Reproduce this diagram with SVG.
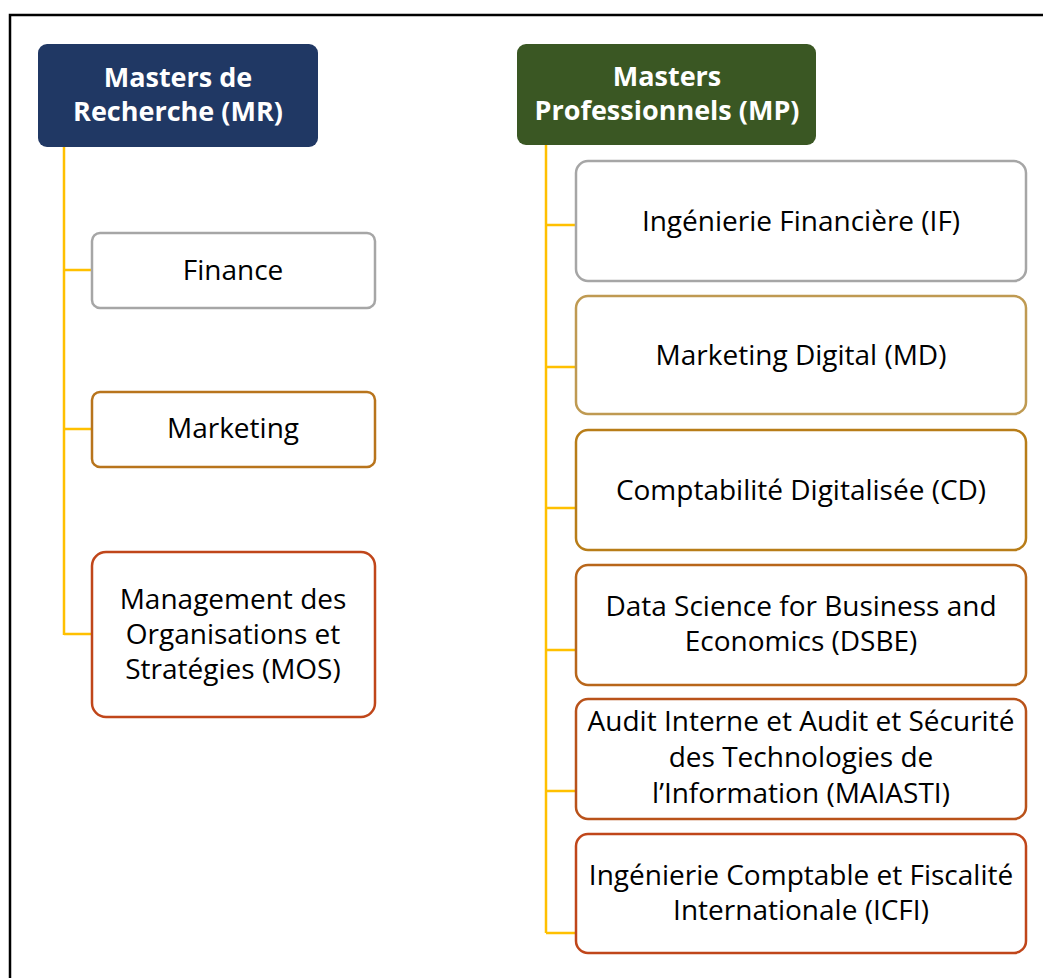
<svg xmlns="http://www.w3.org/2000/svg" width="1043" height="978" viewBox="0 0 1043 978">
<style>
.hdr{font-family:"Open Sans","Liberation Sans",Arial,sans-serif;font-size:27px;font-weight:bold;fill:#ffffff;text-anchor:middle}
.lbl{font-family:"Open Sans","Liberation Sans",Arial,sans-serif;font-size:28px;fill:#000000;text-anchor:middle}
.box{fill:#ffffff;stroke-width:2.5}
.conn{stroke:#ffc000;stroke-width:2.5;fill:none}
</style>
<rect x="0" y="0" width="1043" height="978" fill="#ffffff"/>
<rect x="10" y="15" width="1060" height="1000" fill="none" stroke="#000000" stroke-width="2.5"/>
<g id="connectors">
<path class="conn" d="M64 147 V635 M64 270 H92 M64 429 H92 M64 634 H92"/>
<path class="conn" d="M546 145 V933 M546 225 H576 M546 367 H576 M546 508 H576 M546 650 H576 M546 791 H576 M546 933 H576"/>
</g>
<g id="mr">
<rect x="38" y="44" width="280" height="103" rx="9" fill="#203864"/>
<text class="hdr" x="178" y="87">Masters de</text>
<text class="hdr" x="178" y="121">Recherche (MR)</text>
</g>
<g id="mp">
<rect x="517" y="44" width="299" height="101" rx="9" fill="#3a5723"/>
<text class="hdr" x="667" y="86">Masters</text>
<text class="hdr" x="667" y="120">Professionnels (MP)</text>
</g>
<g id="finance">
<rect class="box" x="92" y="233" width="283" height="75" rx="8" stroke="#a6a6a6"/>
<text class="lbl" x="233" y="280">Finance</text>
</g>
<g id="marketing">
<rect class="box" x="92" y="392" width="283" height="75" rx="8" stroke="#b8741c"/>
<text class="lbl" x="233" y="438">Marketing</text>
</g>
<g id="mos">
<rect class="box" x="92" y="552" width="283" height="165" rx="14" stroke="#c0461a"/>
<text class="lbl" x="233" y="609">Management des</text>
<text class="lbl" x="233" y="644">Organisations et</text>
<text class="lbl" x="233" y="679">Stratégies (MOS)</text>
</g>
<g id="if">
<rect class="box" x="576" y="161" width="450" height="120" rx="12" stroke="#a6a6a6"/>
<text class="lbl" x="801" y="231">Ingénierie Financière (IF)</text>
</g>
<g id="md">
<rect class="box" x="576" y="296" width="450" height="118" rx="12" stroke="#bf9a52"/>
<text class="lbl" x="801" y="365">Marketing Digital (MD)</text>
</g>
<g id="cd">
<rect class="box" x="576" y="430" width="450" height="120" rx="12" stroke="#b87d18"/>
<text class="lbl" x="801" y="500">Comptabilité Digitalisée (CD)</text>
</g>
<g id="dsbe">
<rect class="box" x="576" y="565" width="450" height="120" rx="12" stroke="#b8661a"/>
<text class="lbl" x="801" y="616">Data Science for Business and</text>
<text class="lbl" x="801" y="651">Economics (DSBE)</text>
</g>
<g id="maiasti">
<rect class="box" x="576" y="699" width="450" height="120" rx="12" stroke="#b9521a"/>
<text class="lbl" x="801" y="731">Audit Interne et Audit et Sécurité</text>
<text class="lbl" x="801" y="767">des Technologies de</text>
<text class="lbl" x="801" y="803">l’Information (MAIASTI)</text>
</g>
<g id="icfi">
<rect class="box" x="576" y="834" width="450" height="119" rx="12" stroke="#c0461a"/>
<text class="lbl" x="801" y="885">Ingénierie Comptable et Fiscalité</text>
<text class="lbl" x="801" y="920">Internationale (ICFI)</text>
</g>
</svg>
